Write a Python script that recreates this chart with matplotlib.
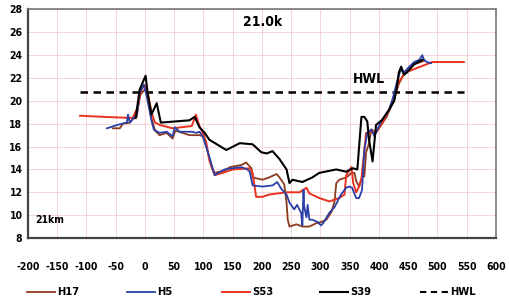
import matplotlib
matplotlib.use("Agg")
import matplotlib.pyplot as plt
from matplotlib import font_manager as fm
from matplotlib.lines import Line2D

# ---- data ----
s39_x = [-16, -9, 1, 5, 11, 20, 27, 76, 85, 93, 102, 110, 139, 162, 184, 199, 208, 218, 230, 242,
         247, 252, 269, 286, 298, 327, 344, 355, 363, 370, 375, 380, 383, 389, 392, 395, 405, 417,
         426, 430, 434, 438, 440, 443, 448, 460, 474]
s39_y = [18.5, 21.0, 22.2, 20.5, 18.8, 19.8, 18.1, 18.3, 18.6, 17.7, 17.2, 16.6, 15.7, 16.3, 16.2, 15.5,
         15.4, 15.6, 14.9, 14.0, 12.8, 13.1, 12.9, 13.3, 13.7, 14.0, 13.8, 14.1, 14.0, 18.6, 18.6, 18.2,
         16.6, 14.7, 16.3, 17.9, 18.3, 19.2, 20.0, 21.0, 22.5, 23.0, 22.6, 22.3, 22.5, 23.2, 23.6]

s53_x = [-111, -70, -21, -12, -6, -1, 5, 11, 17, 25, 47, 80, 87, 93, 99, 105, 110, 119, 133, 150,
         179, 184, 190, 201, 212, 242, 264, 276, 281, 298, 315, 332, 341, 344, 353, 356, 361, 366,
         370, 375, 378, 395, 406, 417, 430, 434, 446, 491, 545]
s53_y = [18.7, 18.6, 18.5, 19.5, 21.0, 21.4, 20.7, 19.0, 18.1, 17.9, 17.6, 17.8, 18.8, 17.8, 17.2, 16.3,
         14.8, 13.5, 13.7, 14.0, 14.1, 13.7, 11.6, 11.6, 11.8, 12.0, 12.0, 12.4, 11.9, 11.5, 11.2, 11.5,
         11.8, 13.5, 14.2, 12.8, 12.0, 12.5, 13.2, 15.7, 17.2, 17.3, 18.1, 19.2, 21.0, 21.7, 22.5, 23.4,
         23.4]

h5_x = [-65, -47, -31, -29, -26, -14, -9, -2, 3, 11, 15, 25, 37, 47, 51, 59, 80, 88, 93, 99, 110,
        119, 136, 148, 165, 175, 179, 184, 201, 218, 226, 233, 242, 247, 255, 260, 267, 269, 271,
        272, 276, 278, 281, 286, 295, 301, 306, 315, 324, 329, 335, 344, 349, 354, 361, 366, 371,
        375, 380, 387, 392, 397, 406, 417, 423, 431, 438, 443, 452, 460, 469, 474, 477, 482, 489]
h5_y = [17.6, 17.9, 18.1, 18.8, 18.1, 18.8, 20.7, 21.4, 20.4, 18.3, 17.5, 17.2, 17.3, 16.9, 17.7, 17.3,
        17.3, 17.2, 17.3, 16.9, 15.1, 13.5, 14.0, 14.1, 14.2, 14.0, 13.8, 12.6, 12.5, 12.6, 12.9, 12.3,
        11.8, 11.1, 10.5, 10.9, 10.2, 9.1, 12.2, 10.8, 9.8, 10.9, 9.6, 9.6, 9.4, 9.1, 9.4, 10.2, 10.7,
        11.2, 11.8, 12.4, 12.5, 12.4, 11.5, 11.5, 12.2, 15.7, 17.2, 17.5, 16.9, 17.5, 18.4, 19.2, 20.1,
        21.7, 22.9, 22.5, 23.0, 23.4, 23.6, 24.0, 23.6, 23.4, 23.3]

h17_x = [-55, -43, -38, -26, -21, -14, -9, 0, 5, 11, 17, 25, 37, 47, 52, 76, 93, 99, 105, 114, 119,
         136, 145, 165, 173, 182, 184, 201, 212, 225, 230, 238, 242, 244, 247, 259, 269, 281, 293,
         301, 310, 319, 324, 327, 332, 344, 349, 353, 358, 361, 366, 371, 375, 378, 383, 387, 395,
         413, 423, 434, 443, 460, 477]
h17_y = [17.6, 17.6, 18.0, 18.1, 18.4, 18.6, 20.5, 21.0, 20.5, 18.5, 17.4, 17.0, 17.2, 16.7, 17.4, 17.0,
         17.0, 16.9, 16.0, 14.2, 13.7, 13.9, 14.2, 14.4, 14.6, 14.1, 13.3, 13.1, 13.3, 13.6, 13.3, 12.7,
         11.1, 9.6, 9.0, 9.2, 9.0, 9.0, 9.3, 9.4, 9.6, 10.3, 11.2, 12.8, 13.1, 13.3, 13.5, 13.7, 13.7,
         13.0, 12.5, 13.3, 13.4, 15.5, 16.3, 17.5, 17.2, 18.6, 19.8, 21.5, 22.4, 23.2, 23.5]

hwl_x = [-111, 546]
hwl_y = [20.8, 20.8]

x_ticks = list(range(-200, 601, 50))
y_ticks = list(range(8, 29, 2))
series_names = ['H17', 'H5', 'S53', 'S39', 'HWL']

# ---- font: prefer a condensed/narrow sans if one is installed ----
names = {f.name for f in fm.fontManager.ttflist}
cond = [f for f in fm.fontManager.ttflist
        if ('Narrow' in f.name or 'Condensed' in f.name or
            str(f.stretch) in ('condensed', 'semi-condensed', 'extra-condensed', '75', '62', '87'))]
stretch = 'normal'
if any(f.name == 'Liberation Sans Narrow' for f in fm.fontManager.ttflist):
    family = 'Liberation Sans Narrow'
elif cond:
    family = cond[0].name
    stretch = 'condensed'
else:
    family = 'Liberation Sans' if 'Liberation Sans' in names else 'DejaVu Sans'
plt.rcParams['font.family'] = [family, 'DejaVu Sans']
plt.rcParams['font.stretch'] = stretch
plt.rcParams['font.weight'] = 'bold'
plt.rcParams['axes.unicode_minus'] = False

fig = plt.figure(figsize=(5.10, 3.05), dpi=100)
ax = fig.add_axes([0.0549, 0.2197, 0.9176, 0.7492])

colors = {'H17': '#8B3A1E', 'H5': '#2A3FA8', 'S53': '#E8321E', 'S39': '#000000', 'HWL': '#000000'}
styles = {'H17': '-', 'H5': '-', 'S53': '-', 'S39': '-', 'HWL': (0, (3, 2.2))}
widths = {'H17': 1.3, 'H5': 1.3, 'S53': 1.4, 'S39': 1.5, 'HWL': 1.8}

ax.plot(h17_x, h17_y, color=colors['H17'], lw=widths['H17'], label='H17', zorder=3)
ax.plot(h5_x, h5_y, color=colors['H5'], lw=widths['H5'], label='H5', zorder=4)
ax.plot(s53_x, s53_y, color=colors['S53'], lw=widths['S53'], label='S53', zorder=3.5)
ax.plot(s39_x, s39_y, color=colors['S39'], lw=widths['S39'], label='S39', zorder=5)
ax.plot(hwl_x, hwl_y, color='black', lw=widths['HWL'], ls=styles['HWL'], label='HWL', zorder=2)

ax.set_xlim(-200, 600)
ax.set_ylim(8, 28)
ax.set_xticks(x_ticks)
ax.set_yticks(y_ticks)
ax.grid(True, color='#F2CFCF', lw=0.6)
ax.set_axisbelow(True)
ax.tick_params(axis='both', length=0, labelsize=7.5)
ax.tick_params(axis='x', pad=17)
ax.tick_params(axis='y', pad=4)
for sp in ['left', 'bottom']:
    ax.spines[sp].set_color('#444444')
    ax.spines[sp].set_linewidth(1.6)
for sp in ['top', 'right']:
    ax.spines[sp].set_color('#777777')
    ax.spines[sp].set_linewidth(1.2)

ax.text(0.502, 0.945, '21.0k', transform=ax.transAxes, ha='center', va='center',
        fontsize=10, fontweight='bold')
ax.text(0.729, 0.696, 'HWL', transform=ax.transAxes, ha='center', va='center',
        fontsize=10, fontweight='bold')
ax.text(0.016, 0.079, '21km', transform=ax.transAxes, ha='left', va='center',
        fontsize=7.5, fontweight='bold')

# legend row at the bottom (figure coordinates)
W, H = 510.0, 305.0
leg_y = 1 - 292 / H
leg_starts = [27, 127, 222, 320, 420]
for name, x0 in zip(series_names, leg_starts):
    fig.add_artist(Line2D([x0 / W, (x0 + 28) / W], [leg_y, leg_y], transform=fig.transFigure,
                          color=colors[name], lw=widths[name] if name != 'HWL' else 1.5,
                          ls=styles[name]))
    fig.text((x0 + 30) / W, leg_y, name, ha='left', va='center', fontsize=8, fontweight='bold')

fig.savefig('out.png', dpi=100)
